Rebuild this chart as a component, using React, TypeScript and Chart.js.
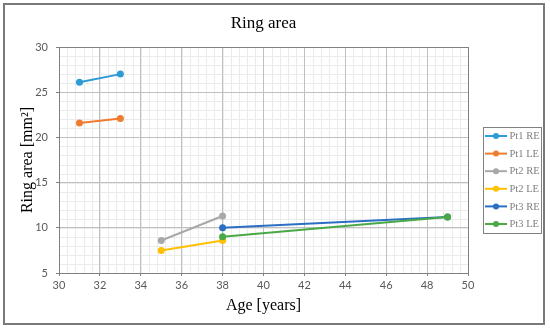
import React, { useEffect, useRef } from "react";
import { Chart, registerables } from "chart.js";

Chart.register(...registerables);

const chartTitle = "Ring area";
const xAxisTitle = "Age [years]";
const yAxisTitle = "Ring area [mm²]";

const seriesNames = ["Pt1 RE", "Pt1 LE", "Pt2 RE", "Pt2 LE", "Pt3 RE", "Pt3 LE"];
const seriesColors = ["#2E9AD6", "#F07C30", "#A8A8A8", "#FFC000", "#2A6FC4", "#48A946"];

const pt1REAge = [31, 33];
const pt1REArea = [26.1, 27.0];
const pt1LEAge = [31, 33];
const pt1LEArea = [21.6, 22.1];
const pt2REAge = [35, 38];
const pt2REArea = [8.6, 11.3];
const pt2LEAge = [35, 38];
const pt2LEArea = [7.5, 8.6];
const pt3REAge = [38, 49];
const pt3REArea = [10.0, 11.2];
const pt3LEAge = [38, 49];
const pt3LEArea = [9.0, 11.2];

const seriesAges = [pt1REAge, pt1LEAge, pt2REAge, pt2LEAge, pt3REAge, pt3LEAge];
const seriesAreas = [pt1REArea, pt1LEArea, pt2REArea, pt2LEArea, pt3REArea, pt3LEArea];

const xMin = 30;
const xMax = 50;
const xStep = 2;
const xMinorStep = 0.4;
const yMin = 5;
const yMax = 30;
const yStep = 5;
const yMinorStep = 1;

const SERIF = "'Liberation Serif', 'Times New Roman', serif";
const SANS = "Lato, 'Open Sans', sans-serif";

const decorPlugin = {
  id: "decor",
  beforeDraw(chart: any) {
    const { ctx, chartArea, scales } = chart;
    ctx.save();
    ctx.fillStyle = "#ffffff";
    ctx.fillRect(0, 0, chart.width, chart.height);
    ctx.strokeStyle = "#ebebeb";
    ctx.lineWidth = 1;
    ctx.beginPath();
    for (let v = xMin; v <= xMax + 1e-9; v += xMinorStep) {
      const px = Math.round(scales.x.getPixelForValue(v)) + 0.5;
      ctx.moveTo(px, chartArea.top);
      ctx.lineTo(px, chartArea.bottom);
    }
    for (let v = yMin; v <= yMax + 1e-9; v += yMinorStep) {
      const py = Math.round(scales.y.getPixelForValue(v)) + 0.5;
      ctx.moveTo(chartArea.left, py);
      ctx.lineTo(chartArea.right, py);
    }
    ctx.stroke();
    ctx.restore();
  },
  beforeDatasetsDraw(chart: any) {
    const { ctx, chartArea } = chart;
    ctx.save();
    ctx.strokeStyle = "#808080";
    ctx.lineWidth = 1;
    ctx.strokeRect(
      Math.round(chartArea.left) + 0.5,
      Math.round(chartArea.top) + 0.5,
      Math.round(chartArea.right - chartArea.left),
      Math.round(chartArea.bottom - chartArea.top)
    );
    ctx.restore();
  },
  afterDraw(chart: any) {
    const { ctx, chartArea } = chart;
    ctx.save();
    ctx.strokeStyle = "#7a7a7a";
    ctx.lineWidth = 2;
    ctx.strokeRect(4, 4, 540, 320);
    ctx.fillStyle = "#000000";
    ctx.font = `17px ${SERIF}`;
    ctx.textAlign = "center";
    ctx.textBaseline = "middle";
    ctx.fillText(chartTitle, (chartArea.left + chartArea.right) / 2, 24);
    const lx = 483.5;
    const ly = 127.5;
    ctx.strokeStyle = "#808080";
    ctx.lineWidth = 1;
    ctx.strokeRect(lx, ly, 58, 106);
    ctx.font = `10.5px ${SERIF}`;
    ctx.textAlign = "left";
    chart.data.datasets.forEach((ds: any, i: number) => {
      const y = 136 + i * 17.6;
      ctx.strokeStyle = ds.borderColor;
      ctx.lineWidth = 2;
      ctx.beginPath();
      ctx.moveTo(485, y);
      ctx.lineTo(507, y);
      ctx.stroke();
      ctx.fillStyle = ds.borderColor;
      ctx.beginPath();
      ctx.arc(496, y, 3, 0, Math.PI * 2);
      ctx.fill();
      ctx.fillStyle = "#7f7f7f";
      ctx.fillText(ds.label, 509.5, y + 0.5);
    });
    ctx.restore();
  },
};

export default function App() {
  const canvasRef = useRef<HTMLCanvasElement | null>(null);

  useEffect(() => {
    document.body.style.margin = "0";
    const canvas = canvasRef.current;
    if (!canvas) return;
    const datasets = seriesNames.map((name, i) => ({
      label: name,
      data: seriesAges[i].map((x, j) => ({ x, y: seriesAreas[i][j] })),
      borderColor: seriesColors[i],
      backgroundColor: seriesColors[i],
      borderWidth: 2,
      pointRadius: 3.5,
      pointBorderWidth: 0,
      pointHoverRadius: 3.5,
      showLine: true,
      tension: 0,
      order: seriesNames.length - i,
    }));
    const chart = new Chart(canvas, {
      type: "scatter",
      data: { datasets },
      plugins: [decorPlugin],
      options: {
        animation: false,
        responsive: false,
        devicePixelRatio: 1,
        layout: { padding: { left: 0, top: 47, right: 82, bottom: 0 } },
        plugins: {
          legend: { display: false },
          title: { display: false },
          tooltip: { enabled: false },
        },
        scales: {
          x: {
            type: "linear",
            min: xMin,
            max: xMax,
            ticks: {
              stepSize: xStep,
              color: "#595959",
              font: { family: SANS, size: 11 },
              padding: 3,
              maxRotation: 0,
            },
            grid: {
              color: "#c0c0c0",
              tickColor: "#808080",
              tickLength: 3,
            },
            border: { color: "#808080", width: 1 },
            title: {
              display: true,
              text: xAxisTitle,
              color: "#000000",
              font: { family: SERIF, size: 16 },
              padding: { top: 0, bottom: 15 },
            },
            afterFit: (s: any) => {
              s.height = 57;
            },
          },
          y: {
            type: "linear",
            min: yMin,
            max: yMax,
            ticks: {
              stepSize: yStep,
              color: "#595959",
              font: { family: SANS, size: 11 },
              padding: 8,
            },
            grid: {
              color: "#c0c0c0",
              tickColor: "#808080",
              tickLength: 3,
            },
            border: { color: "#808080", width: 1 },
            title: {
              display: true,
              text: yAxisTitle,
              color: "#000000",
              font: { family: SERIF, size: 16 },
              padding: { top: 18, bottom: 0 },
            },
            afterFit: (s: any) => {
              s.width = 59;
            },
          },
        },
      },
    } as any);
    return () => chart.destroy();
  }, []);

  return (
    <div style={{ width: 550, height: 330 }}>
      <canvas ref={canvasRef} width={550} height={330} style={{ display: "block" }} />
    </div>
  );
}
